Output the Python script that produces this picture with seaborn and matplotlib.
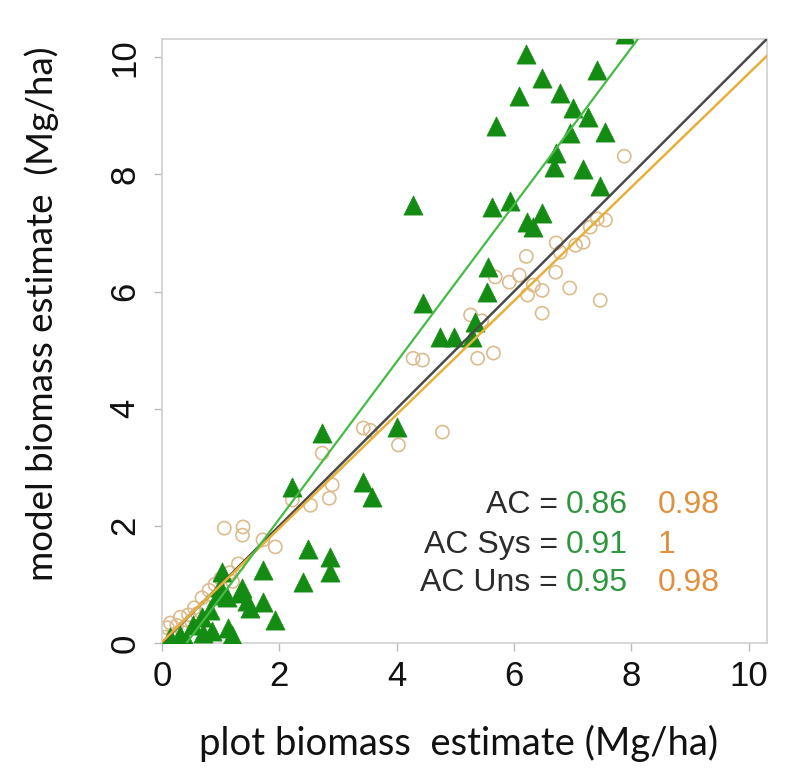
import pandas as pd
import matplotlib
matplotlib.use("Agg")
import matplotlib.pyplot as plt
import seaborn as sns

# green triangles (model vs plot)
tri_x = [6.21, 7.90, 7.42, 6.48, 6.79, 6.09, 7.00, 7.27, 5.70, 6.96, 7.56, 6.71, 6.69,
         7.17, 7.47, 4.28, 5.63, 5.94, 6.48, 6.23, 6.33, 5.56, 5.54, 4.44, 4.74, 4.98,
         5.34, 5.29, 4.01, 2.73, 2.22, 3.43, 3.58, 2.49, 2.87, 2.87, 2.41, 1.72, 1.02,
         1.37, 0.96, 1.11, 1.72, 1.50, 1.93, 1.13, 1.19, 0.68, 0.82, 0.53, 0.70, 0.31,
         0.14, 1.33, 0.99, 0.40, 0.85, 1.45]
tri_y = [10.06, 10.40, 9.78, 9.64, 9.39, 9.33, 9.13, 8.98, 8.82, 8.70, 8.72, 8.36, 8.12,
         8.09, 7.80, 7.47, 7.44, 7.54, 7.34, 7.18, 7.10, 6.42, 6.00, 5.80, 5.22, 5.22,
         5.48, 5.22, 3.69, 3.58, 2.66, 2.75, 2.49, 1.60, 1.47, 1.21, 1.04, 1.25, 1.21,
         0.94, 0.82, 0.79, 0.70, 0.60, 0.39, 0.26, 0.14, 0.44, 0.56, 0.31, 0.17, 0.14,
         0.10, 0.85, 0.96, 0.05, 0.20, 0.72]

# open circles (second model)
circ_x = [7.88, 7.56, 7.42, 7.30, 7.18, 7.05, 6.72, 6.79, 6.21, 6.71, 6.09, 5.92, 5.68,
          6.33, 6.48, 6.23, 6.95, 7.47, 6.48, 5.26, 5.45, 5.38, 5.65, 4.28, 4.44, 4.78,
          4.03, 3.43, 3.55, 2.73, 2.90, 2.85, 2.22, 2.53, 1.06, 1.38, 1.37, 1.72, 1.93,
          1.30, 1.15, 1.00, 0.90, 0.80, 0.68, 0.75, 0.55, 0.60, 0.45, 0.50, 0.39, 0.31,
          0.25, 0.14, 0.09, 0.20, 0.05, 0.35, 1.20]
circ_y = [8.31, 7.22, 7.24, 7.10, 6.84, 6.79, 6.83, 6.67, 6.60, 6.33, 6.28, 6.16, 6.25,
          6.11, 6.02, 5.94, 6.06, 5.85, 5.63, 5.60, 5.50, 4.86, 4.95, 4.86, 4.83, 3.60,
          3.38, 3.67, 3.63, 3.24, 2.70, 2.47, 2.44, 2.35, 1.96, 1.98, 1.84, 1.76, 1.64,
          1.35, 1.20, 1.10, 1.00, 0.90, 0.77, 0.62, 0.60, 0.50, 0.48, 0.38, 0.27, 0.44,
          0.30, 0.34, 0.26, 0.15, 0.10, 0.18, 1.05]

# fitted lines: (intercept, slope)
fit_green = (-0.56, 1.34)
fit_orange = (0.02, 0.97)
one_to_one = (0.0, 1.0)

stat_names = ["AC =", "AC Sys =", "AC Uns ="]
stat_green = ["0.86", "0.91", "0.95"]
stat_orange = ["0.98", "1", "0.98"]

ticks = [0, 2, 4, 6, 8, 10]


def main():
    sns.set_style("white")
    plt.rcParams['font.family'] = ['Liberation Sans', 'DejaVu Sans']

    df_tri = pd.DataFrame({"plot": tri_x, "model": tri_y})
    df_circ = pd.DataFrame({"plot": circ_x, "model": circ_y})

    fig = plt.figure(figsize=(7.87, 7.70), dpi=100)
    ax = fig.add_axes([0.206, 0.165, 0.769, 0.785])

    sns.scatterplot(data=df_circ, x="plot", y="model", ax=ax, marker="o", s=90,
                    facecolor="none", edgecolor="#dcbc8e", linewidth=1.2, zorder=2)
    sns.scatterplot(data=df_tri, x="plot", y="model", ax=ax, marker="^", s=190,
                    color="#148c14", edgecolor="#148c14", linewidth=0.5, zorder=3)

    ax.axline((0, one_to_one[0]), slope=one_to_one[1], color="#4a4a4a", lw=1.8, zorder=4)
    ax.axline((0, fit_orange[0]), slope=fit_orange[1], color="#e6b03a", lw=1.8, zorder=4)
    ax.axline((0, fit_green[0]), slope=fit_green[1], color="#45bb45", lw=1.6, zorder=4)

    ax.set_xlim(0, 10.32)
    ax.set_ylim(0, 10.32)
    ax.set_xticks(ticks)
    ax.set_yticks(ticks)
    ax.tick_params(axis="both", direction="out", length=6, width=1, color="#bbbbbb",
                   labelsize=25, labelcolor="#111111", pad=6)
    ax.tick_params(axis="x", bottom=True)
    ax.tick_params(axis="y", left=True, pad=9)
    for lab in ax.get_yticklabels():
        lab.set_rotation(90)
        lab.set_va("center")
    for sp in ax.spines.values():
        sp.set_color("#cfcfcf")
        sp.set_linewidth(1.2)

    ax.set_xlabel("plot biomass  estimate (Mg/ha)", fontsize=27.5, family=["Lato", "DejaVu Sans"],
                  color="#111111")
    ax.set_ylabel("model biomass estimate  (Mg/ha)", fontsize=26.5, family=["Lato", "DejaVu Sans"],
                  color="#111111")
    ax.xaxis.set_label_coords(0.49, -0.135)
    ax.yaxis.set_label_coords(-0.17, 0.545)

    ys = [2.35, 1.68, 1.03]
    for name, g, o, y in zip(stat_names, stat_green, stat_orange, ys):
        ax.text(6.75, y, name, ha="right", va="center", fontsize=23, color="#2b2b2b")
        ax.text(6.88, y, g, ha="left", va="center", fontsize=23, color="#2f9640")
        ax.text(8.45, y, o, ha="left", va="center", fontsize=23, color="#e0913f")

    fig.savefig("out.png", dpi=100)


if __name__ == "__main__":
    main()
